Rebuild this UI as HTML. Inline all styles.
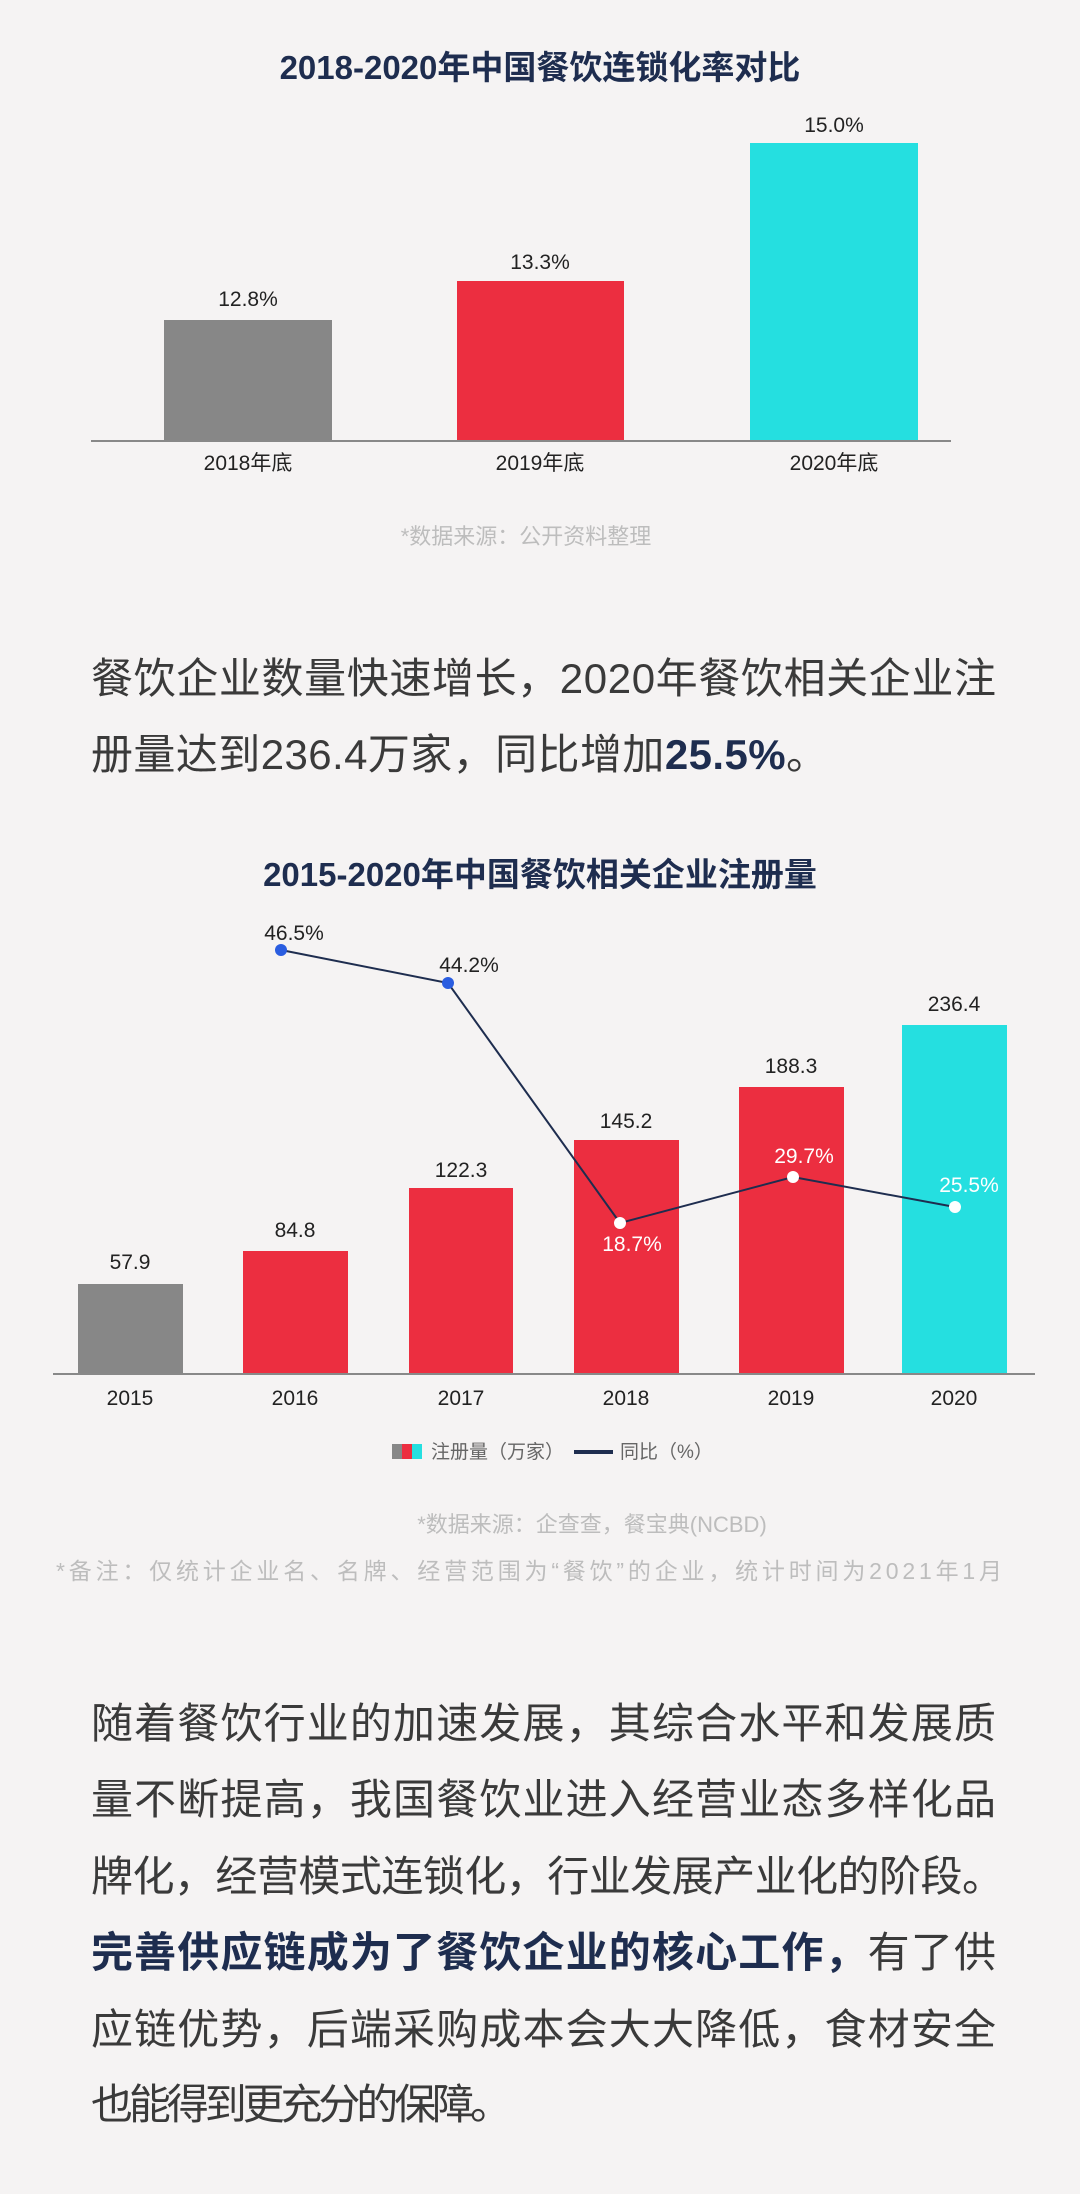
<!DOCTYPE html>
<html><head><meta charset="utf-8"><style>
html,body{margin:0;padding:0;background:#f5f3f3;}
svg{display:block}
text{font-family:"Liberation Sans","Noto Sans CJK SC",sans-serif;}
</style></head><body>
<svg width="1080" height="2194" viewBox="0 0 1080 2194" xmlns="http://www.w3.org/2000/svg">
<rect width="1080" height="2194" fill="#f5f3f3"/>
<!-- Chart 1 -->
<text x="540" y="79" text-anchor="middle" font-size="33" font-weight="bold" fill="#1e2d4f">2018-2020年中国餐饮连锁化率对比</text>
<rect x="164" y="320" width="168" height="121" fill="#878787"/>
<rect x="457" y="281" width="167" height="160" fill="#ec2e40"/>
<rect x="750" y="143" width="168" height="298" fill="#25dfe0"/>
<line x1="91" y1="441" x2="951" y2="441" stroke="#888" stroke-width="2"/>
<g font-size="21" fill="#222" text-anchor="middle">
<text x="248" y="306">12.8%</text>
<text x="540" y="269">13.3%</text>
<text x="834" y="132">15.0%</text>
<text x="248" y="470">2018年底</text>
<text x="540" y="470">2019年底</text>
<text x="834" y="470">2020年底</text>
</g>
<text x="526" y="544" text-anchor="middle" font-size="22" fill="#bdbdbd">*数据来源：公开资料整理</text>
<!-- Paragraph 1 -->
<g font-size="42" fill="#3a3a3a">
<text x="91" y="693" textLength="905" lengthAdjust="spacing">餐饮企业数量快速增长，2020年餐饮相关企业注</text>
<text x="91" y="769" textLength="737" lengthAdjust="spacing">册量达到236.4万家，同比增加<tspan font-weight="bold" fill="#1e2d4f">25.5%</tspan>。</text>
</g>
<!-- Chart 2 -->
<text x="540" y="886" text-anchor="middle" font-size="33" font-weight="bold" fill="#1e2d4f">2015-2020年中国餐饮相关企业注册量</text>
<rect x="78" y="1284" width="105" height="90" fill="#878787"/>
<rect x="243" y="1251" width="105" height="123" fill="#ec2e40"/>
<rect x="409" y="1188" width="104" height="186" fill="#ec2e40"/>
<rect x="574" y="1140" width="105" height="234" fill="#ec2e40"/>
<rect x="739" y="1087" width="105" height="287" fill="#ec2e40"/>
<rect x="902" y="1025" width="105" height="349" fill="#25dfe0"/>
<line x1="53" y1="1374" x2="1035" y2="1374" stroke="#888" stroke-width="2"/>
<g font-size="21" fill="#222" text-anchor="middle">
<text x="130" y="1269">57.9</text>
<text x="295" y="1237">84.8</text>
<text x="461" y="1177">122.3</text>
<text x="626" y="1128">145.2</text>
<text x="791" y="1073">188.3</text>
<text x="954" y="1011">236.4</text>
<text x="130" y="1405">2015</text>
<text x="295" y="1405">2016</text>
<text x="461" y="1405">2017</text>
<text x="626" y="1405">2018</text>
<text x="791" y="1405">2019</text>
<text x="954" y="1405">2020</text>
</g>
<polyline points="281,950 448,983 620,1223 793,1177 955,1207" fill="none" stroke="#1e2d4f" stroke-width="2"/>
<circle cx="281" cy="950" r="6" fill="#2a5de0"/>
<circle cx="448" cy="983" r="6" fill="#2a5de0"/>
<circle cx="620" cy="1223" r="6" fill="#fff"/>
<circle cx="793" cy="1177" r="6" fill="#fff"/>
<circle cx="955" cy="1207" r="6" fill="#fff"/>
<g font-size="21" text-anchor="middle">
<text x="294" y="940" fill="#222">46.5%</text>
<text x="469" y="972" fill="#222">44.2%</text>
<text x="632" y="1251" fill="#fff">18.7%</text>
<text x="804" y="1163" fill="#fff">29.7%</text>
<text x="969" y="1192" fill="#fff">25.5%</text>
</g>
<rect x="392" y="1444" width="10" height="15" fill="#878787"/>
<rect x="402" y="1444" width="10" height="15" fill="#ec2e40"/>
<rect x="412" y="1444" width="10" height="15" fill="#25dfe0"/>
<text x="431" y="1458" font-size="19" fill="#666">注册量（万家）</text>
<line x1="574" y1="1452" x2="613" y2="1452" stroke="#1e2d4f" stroke-width="4"/>
<text x="620" y="1458" font-size="19" fill="#666">同比（%）</text>
<text x="592" y="1532" text-anchor="middle" font-size="22" fill="#bdbdbd">*数据来源：企查查，餐宝典(NCBD)</text>
<text x="56" y="1579" font-size="23" fill="#bdbdbd" textLength="946" lengthAdjust="spacing">*备注：仅统计企业名、名牌、经营范围为“餐饮”的企业，统计时间为2021年1月</text>
<!-- Paragraph 2 -->
<g font-size="42" fill="#3a3a3a">
<text x="91" y="1738" textLength="905" lengthAdjust="spacing">随着餐饮行业的加速发展，其综合水平和发展质</text>
<text x="91" y="1814" textLength="905" lengthAdjust="spacing">量不断提高，我国餐饮业进入经营业态多样化品</text>
<text x="91" y="1891" textLength="913" lengthAdjust="spacing">牌化，经营模式连锁化，行业发展产业化的阶段。</text>
<text x="91" y="1967" textLength="905" lengthAdjust="spacing"><tspan font-weight="bold" fill="#1e2d4f">完善供应链成为了餐饮企业的核心工作，</tspan>有了供</text>
<text x="91" y="2044" textLength="905" lengthAdjust="spacing">应链优势，后端采购成本会大大降低，食材安全</text>
<text x="91" y="2119" textLength="421" lengthAdjust="spacing">也能得到更充分的保障。</text>
</g>
</svg>
</body></html>
